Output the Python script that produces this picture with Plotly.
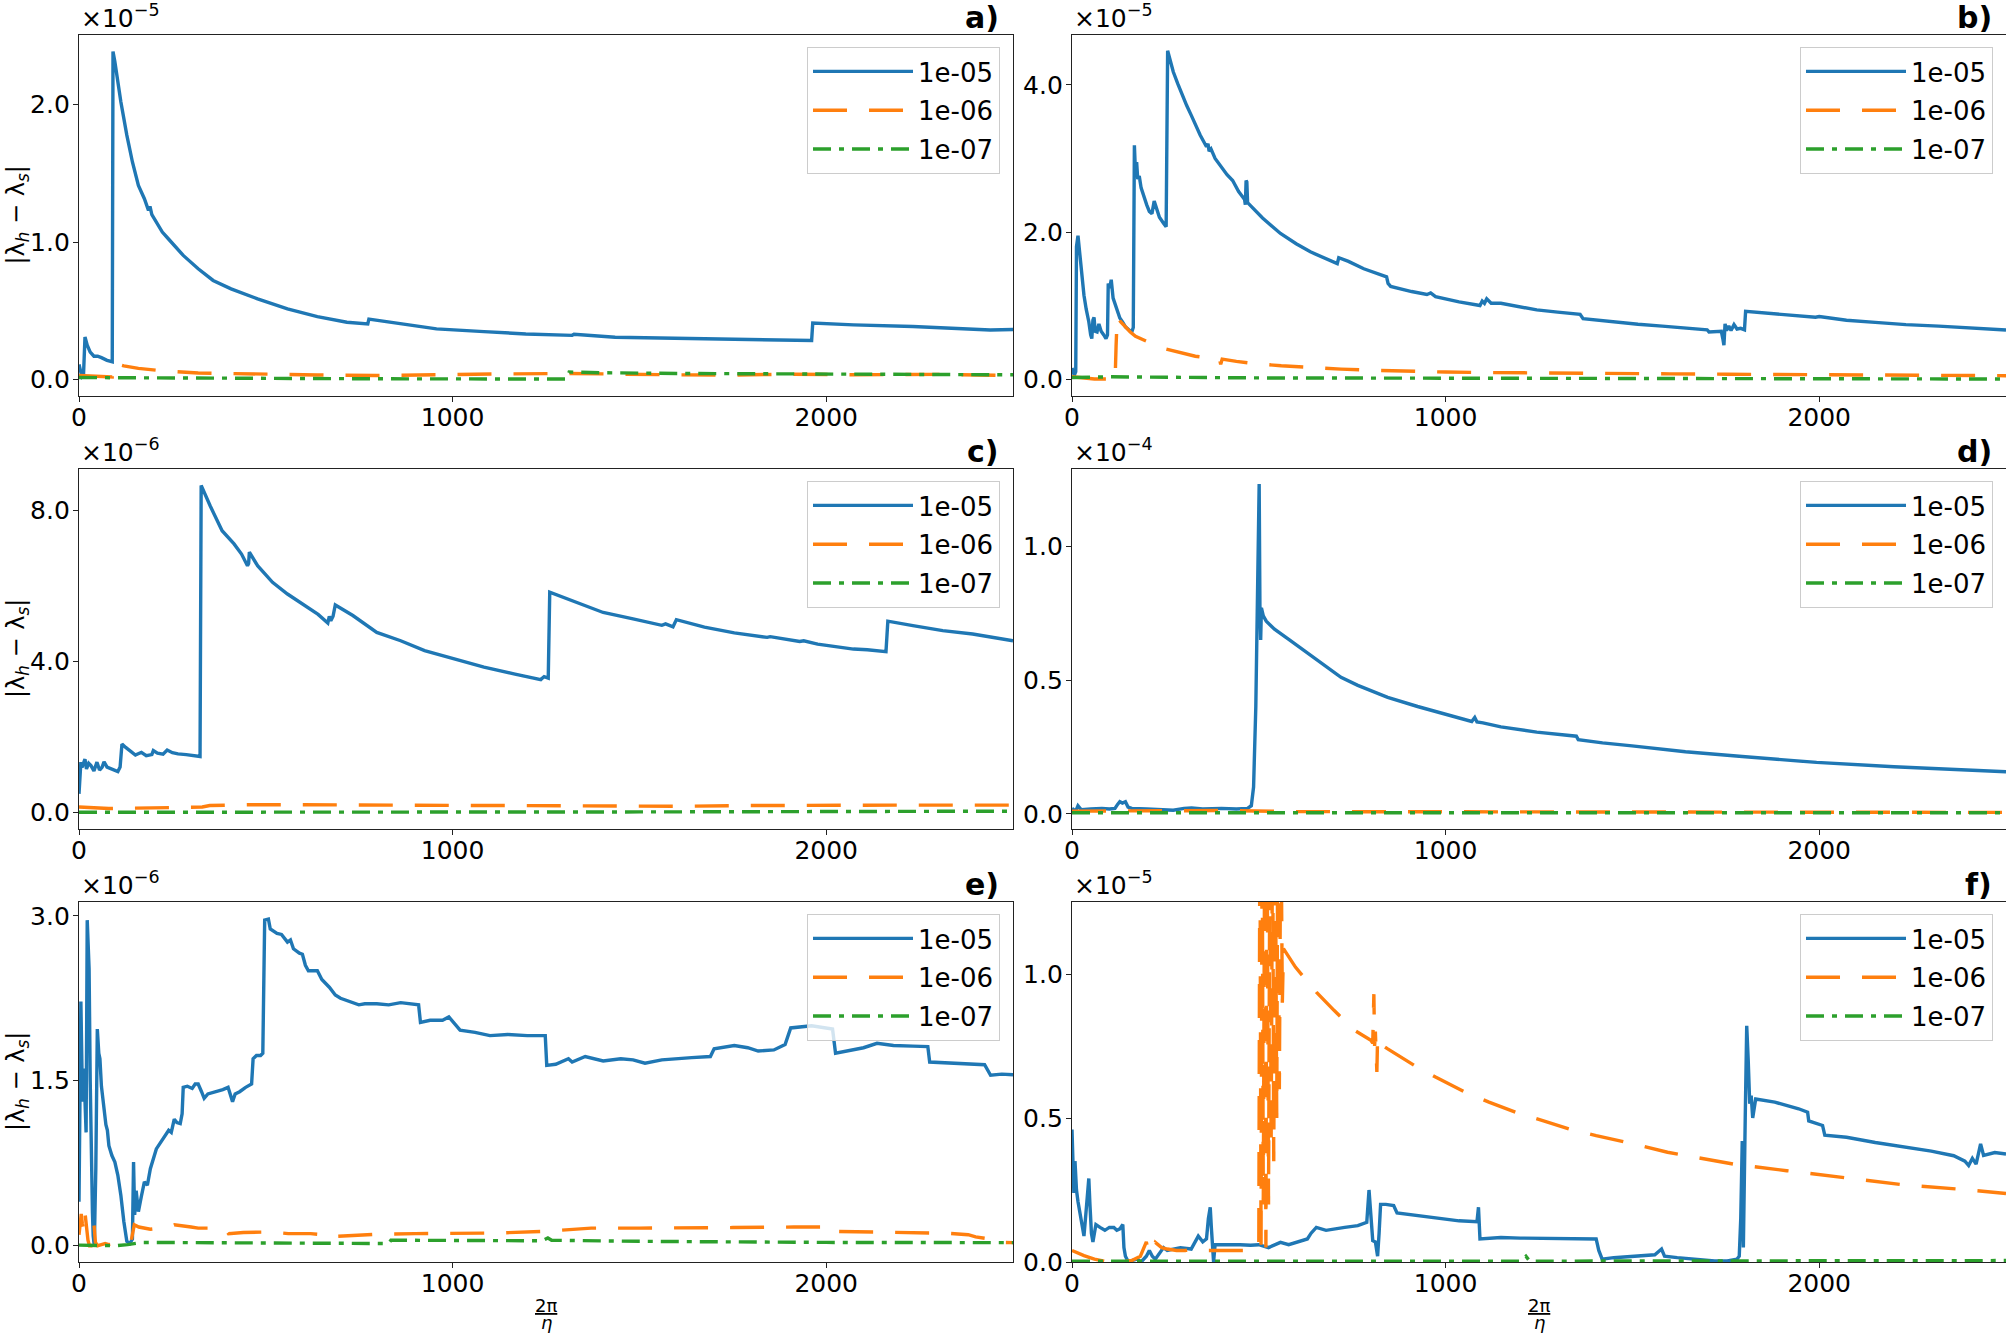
import plotly.graph_objects as go

# ---------------- data (y in units of the panel's 10^exp multiplier) ----------------
series_labels = ["1e-05", "1e-06", "1e-07"]

a_1e05 = [(0, 0.11), (4, 0.06), (8, 0.02), (12, 0.03), (16, 0.31), (22, 0.25), (30, 0.2), (40, 0.17),
          (50, 0.17), (60, 0.16), (75, 0.14), (89, 0.13), (91, 2.385), (96, 2.31), (112, 2.02),
          (128, 1.777), (143, 1.582), (159, 1.412), (175, 1.315), (186, 1.23), (190, 1.26), (195, 1.2),
          (223, 1.073), (239, 1.024), (279, 0.903), (319, 0.806), (359, 0.721), (407, 0.66), (478, 0.587),
          (558, 0.514), (638, 0.458), (717, 0.417), (773, 0.405), (776, 0.44), (845, 0.412), (957, 0.369),
          (1084, 0.349), (1196, 0.332), (1320, 0.322), (1325, 0.33), (1435, 0.308), (1594, 0.301),
          (1754, 0.296), (1961, 0.284), (1964, 0.412), (2073, 0.398), (2232, 0.386), (2439, 0.361), (2500, 0.364)]
a_1e06 = [(0, 0.03), (30, 0.025), (60, 0.02), (89, 0.02), (92, 0.12), (120, 0.1), (159, 0.082), (220, 0.065),
          (319, 0.048), (478, 0.039), (638, 0.034), (797, 0.03), (957, 0.038), (1116, 0.041), (1300, 0.045),
          (1435, 0.038), (1594, 0.035), (1754, 0.033), (1900, 0.04), (2073, 0.035), (2300, 0.038), (2500, 0.03)]
a_1e07 = [(0, 0.015), (200, 0.012), (500, 0.008), (800, 0.006), (1100, 0.005), (1305, 0.005), (1312, 0.055),
          (1400, 0.05), (1600, 0.045), (1900, 0.04), (2200, 0.038), (2500, 0.035)]

b_1e05 = [(0, 0.15), (6, 0.05), (10, 0.1), (12, 1.8), (16, 1.95), (20, 1.75), (26, 1.35), (32, 1.14), (38, 0.95),
          (45, 0.78), (50, 0.6), (53, 0.55), (56, 0.8), (59, 0.84), (62, 0.65), (67, 0.64), (72, 0.75),
          (78, 0.65), (85, 0.6), (91, 0.55), (95, 0.6), (97, 1.3), (101, 1.24), (105, 1.35), (110, 1.1),
          (120, 0.95), (128, 0.83), (136, 0.77), (143, 0.71), (152, 0.67), (160, 0.64), (164, 0.7),
          (167, 3.18), (170, 2.8), (173, 2.95), (176, 2.72), (180, 2.76), (185, 2.6), (191, 2.5), (200, 2.37),
          (207, 2.28), (214, 2.25), (220, 2.42), (226, 2.33), (234, 2.2), (245, 2.12), (252, 2.07),
          (256, 4.467), (262, 4.35), (271, 4.18), (283, 4.02), (295, 3.86), (307, 3.72), (319, 3.59),
          (343, 3.32), (360, 3.16), (364, 3.2), (367, 3.1), (372, 3.13), (383, 3.0), (399, 2.88), (415, 2.78),
          (430, 2.7), (446, 2.55), (458, 2.47), (462, 2.44), (464, 2.37), (466, 2.7), (468, 2.68), (470, 2.4),
          (474, 2.38), (478, 2.35), (510, 2.19), (558, 1.98), (600, 1.84), (638, 1.73), (680, 1.63),
          (710, 1.57), (714, 1.65), (740, 1.6), (781, 1.5), (820, 1.43), (842, 1.39), (846, 1.3), (853, 1.26),
          (909, 1.19), (950, 1.15), (960, 1.17), (973, 1.12), (1036, 1.05), (1092, 1.0), (1098, 1.06),
          (1104, 1.03), (1110, 1.09), (1116, 1.06), (1122, 1.03), (1148, 1.03), (1200, 0.98), (1244, 0.94),
          (1300, 0.91), (1360, 0.88), (1368, 0.82), (1440, 0.78), (1515, 0.745), (1580, 0.72), (1658, 0.69),
          (1700, 0.67), (1705, 0.64), (1738, 0.65), (1742, 0.55), (1745, 0.46), (1748, 0.75), (1752, 0.66),
          (1758, 0.72), (1764, 0.66), (1772, 0.74), (1780, 0.68), (1790, 0.69), (1800, 0.67), (1803, 0.92),
          (1850, 0.9), (1913, 0.87), (1990, 0.84), (2000, 0.85), (2073, 0.8), (2150, 0.77), (2232, 0.74),
          (2320, 0.72), (2392, 0.7), (2500, 0.666)]
b_1e06 = [(0, 0.03), (30, 0.02), (50, 0.01), (60, 0.0), (95, 0.0), (99, 0.12), (110, 0.08), (116, 0.1),
          (118, 0.45), (121, 0.85), (130, 0.78), (140, 0.72), (156, 0.64), (170, 0.58), (190, 0.53),
          (215, 0.48), (250, 0.41), (287, 0.36), (330, 0.31), (367, 0.285), (395, 0.265), (398, 0.2),
          (402, 0.27), (440, 0.24), (478, 0.215), (560, 0.18), (638, 0.155), (720, 0.135), (797, 0.12),
          (900, 0.105), (1000, 0.095), (1116, 0.088), (1250, 0.08), (1435, 0.075), (1600, 0.07), (1754, 0.065),
          (1900, 0.06), (2073, 0.058), (2300, 0.05), (2500, 0.045)]
b_1e07 = [(0, 0.02), (100, 0.03), (500, 0.015), (1000, 0.01), (1800, 0.005), (2500, 0.0)]

c_1e05 = [(0, 0.49), (5, 1.33), (8, 1.19), (12, 1.3), (16, 1.41), (20, 1.15), (26, 1.3), (32, 1.24), (40, 1.1),
          (48, 1.33), (55, 1.12), (62, 1.2), (67, 1.34), (75, 1.2), (90, 1.13), (104, 1.08), (110, 1.2),
          (115, 1.81), (125, 1.72), (136, 1.64), (151, 1.52), (160, 1.56), (167, 1.59), (180, 1.5), (195, 1.53),
          (199, 1.64), (210, 1.57), (225, 1.54), (236, 1.65), (250, 1.58), (265, 1.55), (287, 1.53),
          (305, 1.51), (324, 1.48), (327, 8.67), (351, 8.13), (383, 7.47), (415, 7.12), (435, 6.85),
          (451, 6.54), (454, 6.6), (456, 6.9), (478, 6.54), (518, 6.1), (558, 5.79), (606, 5.48), (640, 5.25),
          (666, 5.02), (670, 5.2), (674, 5.08), (680, 5.2), (686, 5.5), (733, 5.22), (797, 4.77), (861, 4.55),
          (925, 4.29), (1004, 4.07), (1084, 3.85), (1164, 3.67), (1236, 3.52), (1245, 3.6), (1256, 3.56),
          (1260, 5.84), (1323, 5.61), (1403, 5.3), (1483, 5.13), (1560, 4.96), (1570, 5.0), (1590, 4.92),
          (1599, 5.11), (1674, 4.91), (1754, 4.76), (1842, 4.64), (1850, 4.66), (1929, 4.53), (1940, 4.55),
          (1977, 4.46), (2073, 4.33), (2110, 4.31), (2160, 4.26), (2165, 5.07), (2232, 4.95), (2312, 4.82),
          (2392, 4.73), (2500, 4.55)]
c_1e06 = [(0, 0.14), (40, 0.12), (80, 0.1), (150, 0.11), (250, 0.12), (330, 0.14), (350, 0.18), (450, 0.2),
          (600, 0.2), (800, 0.19), (1000, 0.18), (1200, 0.17), (1400, 0.17), (1600, 0.16), (1800, 0.18),
          (2000, 0.19), (2200, 0.19), (2500, 0.19)]
c_1e07 = [(0, 0.0), (500, 0.0), (1500, 0.01), (2500, 0.03)]

d_1e05 = [(0, 0.02), (10, 0.01), (16, 0.03), (25, 0.015), (50, 0.018), (80, 0.02), (100, 0.018), (115, 0.02),
          (122, 0.035), (128, 0.045), (135, 0.04), (143, 0.045), (150, 0.025), (160, 0.02), (200, 0.018),
          (250, 0.015), (271, 0.013), (300, 0.02), (320, 0.022), (350, 0.018), (400, 0.02), (440, 0.018),
          (470, 0.02), (480, 0.03), (486, 0.1), (492, 0.4), (497, 0.8), (501, 1.233), (503, 0.78), (505, 0.65),
          (507, 0.77), (512, 0.74), (520, 0.72), (542, 0.69), (582, 0.65), (606, 0.625), (654, 0.578),
          (686, 0.545), (720, 0.51), (765, 0.48), (845, 0.435), (925, 0.401), (1004, 0.369), (1070, 0.345),
          (1078, 0.36), (1084, 0.343), (1100, 0.34), (1148, 0.325), (1244, 0.305), (1320, 0.292), (1350, 0.29),
          (1355, 0.277), (1420, 0.265), (1499, 0.254), (1642, 0.232), (1794, 0.214), (1993, 0.192),
          (2200, 0.176), (2392, 0.165), (2500, 0.157)]
d_1e06 = [(0, 0.01), (200, 0.012), (300, 0.014), (400, 0.012), (600, 0.008), (1000, 0.007), (1500, 0.006),
          (2000, 0.005), (2500, 0.005)]
d_1e07 = [(0, 0.004), (2500, 0.004)]

e_1e05 = [(0, 0.4), (5, 2.22), (8, 1.6), (10, 1.31), (13, 1.61), (16, 1.2), (19, 1.03), (22, 2.96), (25, 2.7),
          (27, 2.52), (30, 1.5), (32, 1.0), (36, 0.3), (38, 0.09), (41, 0.0), (45, 0.7), (49, 1.97), (53, 1.75),
          (56, 1.7), (60, 1.45), (64, 1.31), (68, 1.2), (72, 1.1), (76, 1.05), (80, 0.91), (88, 0.82),
          (96, 0.76), (104, 0.64), (112, 0.46), (120, 0.22), (128, 0.04), (136, 0.02), (143, 0.06),
          (146, 0.76), (149, 0.28), (153, 0.5), (159, 0.31), (167, 0.45), (175, 0.58), (183, 0.55), (191, 0.7),
          (207, 0.88), (220, 0.95), (231, 1.0), (240, 1.05), (247, 1.03), (255, 1.15), (262, 1.12),
          (271, 1.11), (276, 1.2), (279, 1.44), (290, 1.45), (303, 1.43), (311, 1.47), (319, 1.47), (328, 1.4),
          (335, 1.34), (345, 1.38), (367, 1.4), (385, 1.42), (399, 1.44), (405, 1.36), (411, 1.31),
          (418, 1.38), (430, 1.4), (446, 1.44), (462, 1.47), (466, 1.7), (475, 1.73), (486, 1.73), (492, 1.75),
          (497, 2.96), (507, 2.97), (512, 2.88), (530, 2.84), (542, 2.83), (558, 2.76), (566, 2.78), (574, 2.7),
          (590, 2.66), (598, 2.65), (606, 2.55), (614, 2.5), (638, 2.5), (650, 2.42), (670, 2.35), (686, 2.28),
          (700, 2.25), (717, 2.23), (749, 2.19), (765, 2.2), (797, 2.2), (829, 2.19), (861, 2.21), (909, 2.19),
          (914, 2.03), (940, 2.05), (973, 2.05), (990, 2.08), (1020, 1.96), (1060, 1.94), (1100, 1.91),
          (1148, 1.92), (1200, 1.91), (1248, 1.91), (1252, 1.64), (1276, 1.65), (1310, 1.7), (1320, 1.67),
          (1355, 1.72), (1403, 1.68), (1450, 1.7), (1483, 1.69), (1515, 1.66), (1560, 1.69), (1594, 1.7),
          (1640, 1.71), (1690, 1.72), (1700, 1.79), (1754, 1.82), (1790, 1.8), (1818, 1.77), (1860, 1.78),
          (1890, 1.83), (1905, 1.98), (1961, 2.0), (2017, 1.97), (2025, 1.75), (2060, 1.77), (2100, 1.8),
          (2136, 1.84), (2180, 1.82), (2232, 1.815), (2272, 1.81), (2277, 1.67), (2330, 1.66), (2380, 1.65),
          (2424, 1.646), (2440, 1.55), (2470, 1.56), (2500, 1.555)]
e_1e06 = [(0, 0.1), (3, 0.22), (6, 0.29), (9, 0.2), (12, 0.15), (16, 0.3), (20, 0.15), (24, 0.05), (28, 0.0),
          (32, 0.0), (36, 0.1), (40, 0.2), (44, 0.03), (50, 0.0), (60, 0.01), (70, 0.02), (80, 0.01),
          (100, 0.02), (120, 0.03), (140, 0.05), (148, 0.19), (160, 0.17), (175, 0.16), (191, 0.15),
          (240, 0.17), (255, 0.19), (300, 0.17), (319, 0.16), (360, 0.16), (391, 0.15), (400, 0.11),
          (440, 0.12), (510, 0.125), (560, 0.11), (620, 0.11), (654, 0.1), (660, 0.08), (720, 0.09),
          (797, 0.104), (900, 0.11), (957, 0.113), (1116, 0.115), (1244, 0.13), (1300, 0.14), (1371, 0.16),
          (1500, 0.16), (1594, 0.16), (1750, 0.165), (1913, 0.17), (2025, 0.17), (2030, 0.13), (2200, 0.12),
          (2328, 0.113), (2380, 0.1), (2400, 0.08), (2440, 0.06), (2460, 0.03), (2500, 0.028)]
e_1e07 = [(0, 0.005), (100, 0.0), (130, 0.01), (170, 0.03), (500, 0.025), (829, 0.02), (835, 0.05),
          (1000, 0.045), (1240, 0.045), (1255, 0.07), (1265, 0.05), (1500, 0.04), (2000, 0.03), (2500, 0.028)]

f_1e05 = [(0, 0.46), (3, 0.3), (5, 0.24), (8, 0.35), (12, 0.25), (16, 0.21), (20, 0.18), (24, 0.16), (28, 0.12),
          (32, 0.09), (36, 0.15), (40, 0.21), (45, 0.29), (48, 0.2), (52, 0.1), (56, 0.07), (60, 0.11),
          (64, 0.13), (75, 0.12), (88, 0.11), (100, 0.12), (112, 0.12), (120, 0.11), (128, 0.115), (136, 0.13),
          (139, 0.05), (143, 0.02), (151, 0.0), (160, 0.005), (175, 0.01), (185, 0.0), (199, 0.02), (207, 0.04),
          (215, 0.02), (223, 0.01), (235, 0.03), (245, 0.05), (255, 0.04), (270, 0.045), (290, 0.05),
          (319, 0.045), (330, 0.07), (338, 0.09), (350, 0.07), (360, 0.08), (365, 0.15), (370, 0.19),
          (373, 0.12), (376, 0.03), (379, 0.0), (383, 0.06), (392, 0.06), (415, 0.062), (450, 0.06),
          (478, 0.058), (500, 0.06), (526, 0.05), (542, 0.06), (558, 0.068), (580, 0.06), (606, 0.07),
          (630, 0.08), (640, 0.1), (654, 0.12), (680, 0.11), (702, 0.115), (730, 0.12), (765, 0.126),
          (789, 0.138), (795, 0.25), (800, 0.14), (805, 0.074), (812, 0.07), (818, 0.02), (822, 0.1),
          (826, 0.2), (840, 0.2), (861, 0.196), (870, 0.17), (900, 0.165), (957, 0.155), (1000, 0.15),
          (1036, 0.143), (1084, 0.14), (1088, 0.19), (1092, 0.08), (1148, 0.085), (1200, 0.083), (1276, 0.082),
          (1350, 0.082), (1403, 0.08), (1410, 0.04), (1419, 0.01), (1450, 0.015), (1515, 0.022), (1560, 0.025),
          (1578, 0.045), (1586, 0.02), (1620, 0.015), (1674, 0.008), (1720, 0.004), (1754, 0.004),
          (1780, 0.01), (1786, 0.02), (1790, 0.15), (1794, 0.42), (1797, 0.05), (1802, 0.5), (1806, 0.82),
          (1810, 0.7), (1814, 0.55), (1818, 0.578), (1822, 0.5), (1830, 0.566), (1881, 0.555), (1945, 0.532),
          (1969, 0.52), (1972, 0.49), (2009, 0.474), (2015, 0.44), (2073, 0.433), (2150, 0.415), (2232, 0.398),
          (2300, 0.385), (2360, 0.369), (2390, 0.35), (2400, 0.335), (2410, 0.36), (2420, 0.34), (2432, 0.41),
          (2440, 0.37), (2470, 0.38), (2500, 0.375)]
f_1e06 = [(0, 0.04), (16, 0.03), (32, 0.022), (60, 0.01), (96, 0.0), (128, 0.0), (160, 0.005), (183, 0.02),
          (195, 0.06), (199, 0.07), (205, 0.03), (215, 0.04), (223, 0.068), (240, 0.05), (255, 0.045),
          (280, 0.04), (303, 0.04), (320, 0.045), (351, 0.04), (400, 0.04), (446, 0.039), (480, 0.04),
          (500, 0.05), (503, 1.6), (506, 0.04), (509, 1.6), (512, 0.2), (516, 1.6), (519, 0.05), (522, 1.6),
          (526, 0.2), (530, 1.6), (533, 0.4), (537, 1.6), (540, 0.35), (544, 1.6), (548, 0.5), (551, 1.6),
          (555, 0.6), (559, 1.6), (563, 0.9), (566, 1.088), (598, 1.024), (654, 0.937), (702, 0.873),
          (757, 0.804), (800, 0.77), (805, 0.76), (808, 0.93), (810, 0.75), (812, 0.8), (814, 0.72),
          (816, 0.66), (818, 0.78), (822, 0.76), (845, 0.74), (917, 0.682), (973, 0.642), (1052, 0.59),
          (1116, 0.555), (1188, 0.52), (1260, 0.491), (1331, 0.462), (1403, 0.439), (1483, 0.416),
          (1594, 0.381), (1690, 0.358), (1770, 0.34), (1913, 0.317), (2073, 0.291), (2232, 0.267),
          (2392, 0.251), (2500, 0.238)]
f_1e07 = [(0, 0.003), (1200, 0.003), (1215, 0.02), (1225, 0.003), (2500, 0.005)]

panel_names = ["a)", "b)", "c)", "d)", "e)", "f)"]
panel_series = [
    [a_1e05, a_1e06, a_1e07],
    [b_1e05, b_1e06, b_1e07],
    [c_1e05, c_1e06, c_1e07],
    [d_1e05, d_1e06, d_1e07],
    [e_1e05, e_1e06, e_1e07],
    [f_1e05, f_1e06, f_1e07],
]
panel_exponents = [-5, -5, -6, -4, -6, -5]
panel_yticks = [[0.0, 1.0, 2.0], [0.0, 2.0, 4.0], [0.0, 4.0, 8.0], [0.0, 0.5, 1.0], [0.0, 1.5, 3.0], [0.0, 0.5, 1.0]]
panel_yranges = [[-0.119, 2.505], [-0.231, 4.68], [-0.443, 9.106], [-0.057, 1.289], [-0.148, 3.125], [0.0, 1.25]]
x_range = [0, 2500]
x_ticks = [0, 1000, 2000]

# ---------------- style / layout ----------------
W, H = 2006, 1335
colors = ["#1f77b4", "#ff7f0e", "#2ca02c"]
dashes = ["solid", "34px,22px", "18px,8px,5px,8px"]
FONT = "DejaVu Sans"
TICK_SIZE = 25
left_px = [79, 1072]
right_px = [1013, 2006]
top_px = [35, 469, 902]
bot_px = [396, 829, 1262]

fig = go.Figure()
layout = dict(
    width=W, height=H, margin=dict(l=0, r=0, t=0, b=0),
    paper_bgcolor="white", plot_bgcolor="white",
    font=dict(family=FONT, size=TICK_SIZE, color="black"),
    showlegend=True,
)
annotations = []

for i in range(6):
    row, col = divmod(i, 2)
    sfx = "" if i == 0 else str(i + 1)
    leg = "legend" if i == 0 else f"legend{i + 1}"
    for k, pts in enumerate(panel_series[i]):
        fig.add_trace(go.Scatter(
            x=[p[0] for p in pts], y=[p[1] for p in pts], mode="lines",
            name=series_labels[k], legend=leg, legendgroup=f"p{i}s{k}",
            line=dict(color=colors[k], width=3.4, dash=dashes[k]),
            xaxis="x" + sfx, yaxis="y" + sfx, showlegend=True,
        ))
    xl, xr = left_px[col] / W, right_px[col] / W
    yb, yt = 1 - bot_px[row] / H, 1 - top_px[row] / H
    axis_common = dict(showgrid=False, zeroline=False, showline=True, linecolor="#222222", linewidth=1.3,
                       ticks="outside", ticklen=5, tickwidth=1.3, tickcolor="#222222",
                       tickfont=dict(family=FONT, size=TICK_SIZE, color="black"), automargin=False)
    layout["xaxis" + sfx] = dict(axis_common, domain=[xl, xr], anchor="y" + sfx, range=x_range,
                                 tickvals=x_ticks, ticktext=[str(t) for t in x_ticks], mirror=True,
                                 ticklabelstandoff=-6)
    layout["yaxis" + sfx] = dict(axis_common, domain=[yb, yt], anchor="x" + sfx, range=panel_yranges[i],
                                 tickvals=panel_yticks[i], tickformat=".1f", mirror=(col == 0),
                                 ticklabelstandoff=-2)
    layout[leg] = dict(
        x=(right_px[col] - 13) / W, y=1 - (top_px[row] + 12) / H, xanchor="right", yanchor="top",
        bgcolor="rgba(255,255,255,0.8)", bordercolor="#cccccc", borderwidth=1,
        font=dict(family=FONT, size=26, color="black"), itemwidth=100, tracegroupgap=2,
    )
    # offset (multiplier) text
    annotations.append(dict(
        text=f"×10<sup>−{abs(panel_exponents[i])}</sup>", xref="paper", yref="paper",
        x=left_px[col] / W, y=yt, xanchor="left", yanchor="bottom", showarrow=False,
        font=dict(family=FONT, size=25, color="black"),
    ))
    # panel label
    annotations.append(dict(
        text=f"<b>{panel_names[i]}</b>", xref="paper", yref="paper",
        x=(right_px[col] - 12) / W, y=1 - (top_px[row] - 18) / H, xanchor="right", yanchor="middle",
        showarrow=False, font=dict(family=FONT, size=30, color="black"),
    ))
    if col == 0:
        annotations.append(dict(
            text="|λ<sub><i>h</i></sub> − λ<sub><i>s</i></sub>|", xref="paper", yref="paper",
            x=17 / W, y=(yb + yt) / 2, xanchor="center", yanchor="middle", textangle=-90,
            showarrow=False, font=dict(family=FONT, size=24, color="black"),
        ))
    if row == 2:
        xc = (xl + xr) / 2
        annotations.append(dict(
            text="<u>2π</u>", xref="paper", yref="paper", x=xc, y=1 - 1305 / H,
            xanchor="center", yanchor="middle", showarrow=False,
            font=dict(family=FONT, size=18, color="black"),
        ))
        annotations.append(dict(
            text="<i>η</i>", xref="paper", yref="paper", x=xc, y=1 - 1322 / H,
            xanchor="center", yanchor="middle", showarrow=False,
            font=dict(family=FONT, size=18, color="black"),
        ))

layout["annotations"] = annotations
fig.update_layout(**layout)
fig.write_html("out.html")
